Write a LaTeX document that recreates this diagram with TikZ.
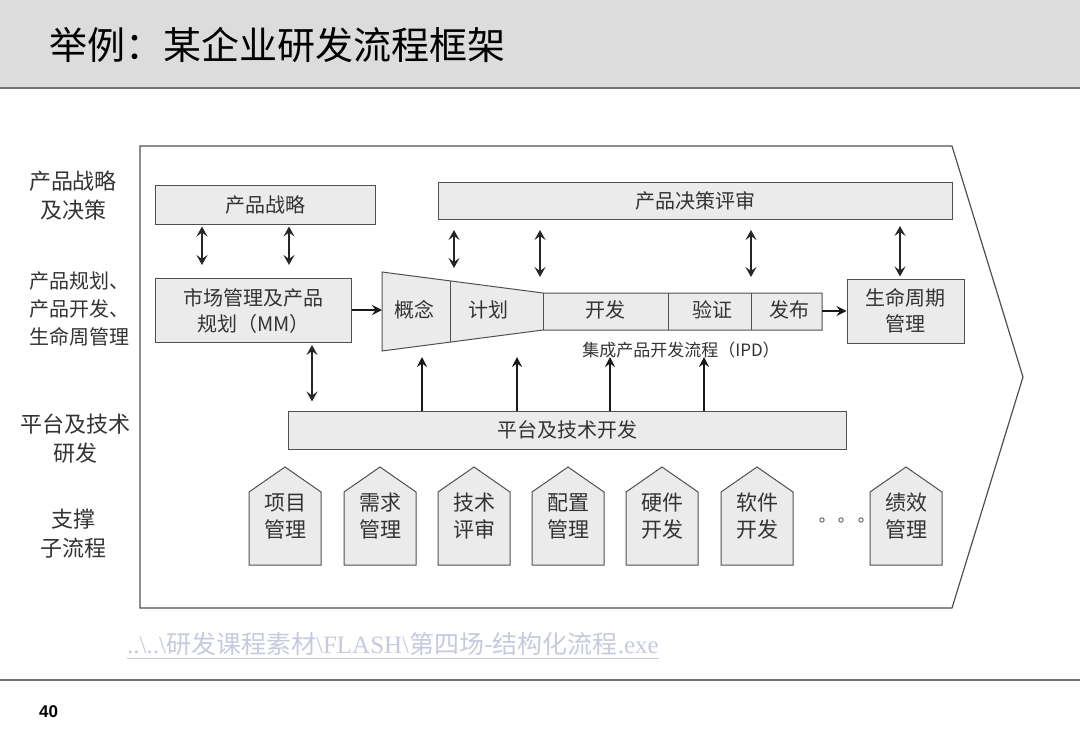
\documentclass[tikz,border=0pt]{standalone}
\usepackage{fontspec}
\setmainfont{Liberation Serif}
\newfontfamily\cjk{Noto Sans CJK SC}
\newfontfamily\arialf{Liberation Sans}
\usetikzlibrary{arrows.meta}
\definecolor{hdr}{HTML}{DCDCDC}
\definecolor{boxfill}{HTML}{EBEBEB}
\definecolor{edge}{HTML}{505050}
\definecolor{txt}{HTML}{333333}
\definecolor{linkc}{HTML}{C6CADC}
\tikzset{
  gbox/.style={draw=edge, fill=boxfill, line width=1pt, inner sep=0pt, align=center, text=txt,
    font=\cjk\fontsize{20}{26}\selectfont},
  lbl/.style={align=center, text=txt, font=\cjk\fontsize{22}{29}\selectfont},
  lbls/.style={align=center, text=txt, font=\cjk\fontsize{20}{28}\selectfont},
  ftxt/.style={text=txt, font=\cjk\fontsize{20}{24}\selectfont, inner sep=0pt},
  dbl/.style={line width=1.5pt, black!85, {Stealth[length=10pt,width=11pt,inset=4pt]}-{Stealth[length=10pt,width=11pt,inset=4pt]}},
  sgl/.style={line width=1.8pt, black!90, -{Stealth[length=10pt,width=10pt,inset=3.5pt]}},
}
\begin{document}
\begin{tikzpicture}[x=1pt,y=-1pt]
\useasboundingbox (0,0) rectangle (1080,747);
% header
\fill[hdr] (0,0) rectangle (1080,88);
\draw[line width=2pt, black!55] (0,88) -- (1080,88);
\node[anchor=west, inner sep=0pt] (title) at (49,45)
  {\cjk\fontsize{38}{42}\selectfont 举例：某企业研发流程框架};
% footer
\draw[line width=1.5pt, black!55] (0,680) -- (1080,680);
\node[anchor=west, inner sep=0pt, font=\arialf\bfseries\fontsize{17}{20}\selectfont] (pg) at (39,712) {40};
% outer arrow frame
\draw[edge, line width=1.2pt] (140,146) -- (952,146) -- (1023,377) -- (952,608) -- (140,608) -- cycle;
% left labels
\node[lbl] (l1) at (73,196) {产品战略\\及决策};
\node[lbls] (l2) at (80,309) {产品规划、\\产品开发、\\生命周管理};
\node[lbl] (l3) at (75,439) {平台及技术\\研发};
\node[lbl] (l4) at (73,534) {支撑\\子流程};
% boxes
\node[gbox, minimum width=220pt, minimum height=39pt] (ps) at (265,204.5) {产品战略};
\node[gbox, minimum width=514pt, minimum height=37pt] (dr) at (695,201) {产品决策评审};
\node[gbox, minimum width=196pt, minimum height=64pt] (mm) at (253.5,310.5) {市场管理及产品\\规划（MM）};
\node[gbox, minimum width=117pt, minimum height=64pt] (lc) at (905.5,311) {生命周期\\管理};
\node[gbox, minimum width=558pt, minimum height=38pt] (pt) at (567,430) {平台及技术开发};
% IPD funnel
\draw[edge, fill=boxfill, line width=1pt] (382,272) -- (543,293) -- (822,293) -- (822,330) -- (543,330) -- (382,351) -- cycle;
\draw[edge, line width=1pt] (450,281) -- (450,342);
\draw[edge, line width=1pt] (543,293) -- (543,330);
\draw[edge, line width=1pt] (668,293) -- (668,330);
\draw[edge, line width=1pt] (751,293) -- (751,330);
\node[ftxt] (gn) at (414,310) {概念};
\node[ftxt] (jh) at (488,310) {计划};
\node[ftxt] (kf) at (605,310) {开发};
\node[ftxt] (yz) at (712,310) {验证};
\node[ftxt] (fb) at (789,310) {发布};
\node[text=txt, inner sep=0pt, font=\cjk\fontsize{17}{20}\selectfont] (ipd) at (681,350) {集成产品开发流程（IPD）};
\coordinate (fl) at (382,310);
\coordinate (fr) at (822,311);
% arrows
\draw[dbl] ([yshift=-2pt]ps.south -| 202,0) -- ([yshift=13pt]mm.north -| 202,0);
\draw[dbl] ([yshift=-2pt]ps.south -| 289,0) -- ([yshift=13pt]mm.north -| 289,0);
\draw[dbl] ([yshift=-10pt]dr.south -| 454,0) -- (454,268);
\draw[dbl] ([yshift=-10pt]dr.south -| 540,0) -- (540,277);
\draw[dbl] ([yshift=-10pt]dr.south -| 751,0) -- (751,277);
\draw[dbl] ([yshift=-6pt]dr.south -| 900,0) -- ([yshift=2pt]lc.north -| 900,0);
\draw[dbl] ([yshift=-2pt]mm.south -| 312,0) -- ([yshift=9pt]pt.north -| 312,0);
\draw[sgl] (mm.east |- fl) -- (fl);
\draw[sgl] (fr) -- (lc.west |- fr);
\foreach \x in {422,517,610,704}{
  \draw[sgl] (pt.north -| \x,0) -- (\x,357);
}
% support sub-processes
\foreach \cx/\a/\b [count=\i] in {285/项目/管理, 380/需求/管理, 474/技术/评审, 568/配置/管理, 662/硬件/开发, 757/软件/开发, 906/绩效/管理}{
  \draw[edge, fill=boxfill, line width=1pt] (\cx-36,565) -- (\cx-36,492) -- (\cx,467) -- (\cx+36,492) -- (\cx+36,565) -- cycle;
  \node[lbls, font=\cjk\fontsize{21}{27}\selectfont] (sp\i) at (\cx,516) {\a\\\b};
}
\foreach \x in {822,841,861}{
  \draw[edge, line width=0.8pt] (\x,520) circle (2.2pt);
}
% link
\node[anchor=west, inner sep=0pt, text=linkc, font=\fontsize{25}{28}\selectfont] (link) at (127,644)
  {..\textbackslash..\textbackslash{\cjk 研发课程素材}\textbackslash FLASH\textbackslash{\cjk 第四场-结构化流程}.exe};
\draw[linkc, line width=1pt] ([yshift=-3pt]link.south west) -- ([yshift=-3pt]link.south east);
\end{tikzpicture}
\end{document}
